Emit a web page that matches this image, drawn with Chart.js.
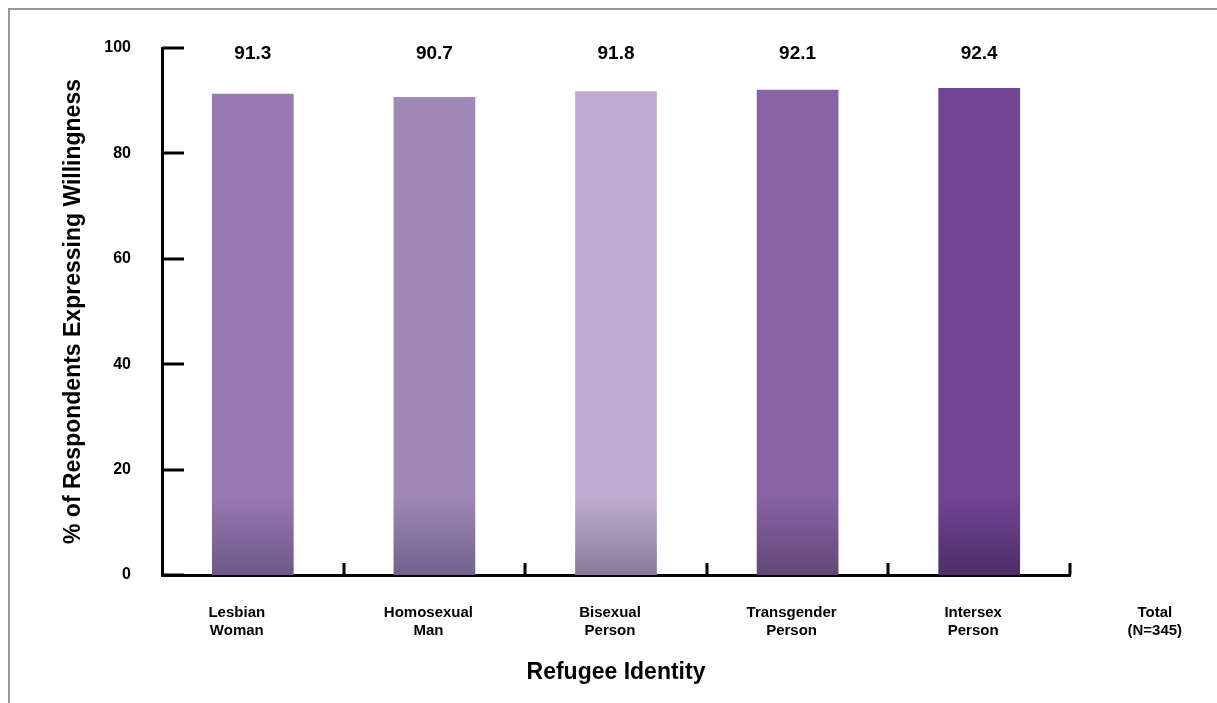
<!DOCTYPE html>
<html>
<head>
<meta charset="utf-8">
<script src="https://cdn.jsdelivr.net/npm/chart.js@4"></script>
<style>
  html, body { margin: 0; padding: 0; background: #fff; }
  #wrap { position: relative; width: 1217px; height: 703px; }
  #frame { position: absolute; left: 8px; top: 8px; right: 0; bottom: 0;
           border-top: 2px solid #999; border-left: 2px solid #999; }
  canvas { position: absolute; left: 0; top: 0; }
</style>
</head>
<body>
<div id="wrap">
  <div id="frame"></div>
  <canvas id="chart" width="1217" height="703"></canvas>
</div>
<script>
// ===== Data =====
const categories = ['Lesbian Woman', 'Homosexual Man', 'Bisexual Person', 'Transgender Person', 'Intersex Person'];
const axisLabels = [['Lesbian', 'Woman'], ['Homosexual', 'Man'], ['Bisexual', 'Person'],
                    ['Transgender', 'Person'], ['Intersex', 'Person'], ['Total', '(N=345)']];
const values = [91.3, 90.7, 91.8, 92.1, 92.4];
const yTicks = [0, 20, 40, 60, 80, 100];

// colours: top of bar / bottom of bar
const topColors = ['#977ab1', '#a088b8', '#c1add1', '#8963a5', '#714594'];
const bottomColors = ['#6d5889', '#71628c', '#877c9c', '#614878', '#4d2d67'];

const FONT = '"Liberation Sans", Arial, sans-serif';

function barColor(c) {
    const area = c.chart.chartArea;
    const i = c.dataIndex;
    if (!area) return topColors[i];
    const g = c.chart.ctx.createLinearGradient(0, area.bottom - 80, 0, area.bottom);
    g.addColorStop(0, topColors[i]);
    g.addColorStop(1, bottomColors[i]);
    return g;
}

// ticks, value labels, category labels
const extras = {
    id: 'extras',
    afterDraw(chart) {
        const { ctx, scales: { x, y } } = chart;
        ctx.save();
        ctx.strokeStyle = '#000';
        ctx.lineWidth = 3;
        yTicks.forEach(v => {
            const py = Math.round(y.getPixelForValue(v));
            ctx.beginPath();
            ctx.moveTo(x.left, py);
            ctx.lineTo(x.left + 22, py);
            ctx.stroke();
        });
        for (let i = 0; i < values.length; i++) {
            const px = Math.round(x.getPixelForValue(i + 0.5));
            ctx.beginPath();
            ctx.moveTo(px, y.bottom);
            ctx.lineTo(px, y.bottom - 12);
            ctx.stroke();
        }
        ctx.fillStyle = '#000';
        ctx.textAlign = 'center';
        ctx.textBaseline = 'middle';
        ctx.font = 'bold 19px ' + FONT;
        const topY = y.getPixelForValue(100) + 6;
        values.forEach((v, i) => {
            ctx.fillText(v.toFixed(1), x.getPixelForValue(i), topY);
        });
        ctx.font = 'bold 15px ' + FONT;
        axisLabels.forEach((lines, i) => {
            const px = x.getPixelForValue(i) - (i === 0 ? 16 : 6);
            lines.forEach((t, j) => ctx.fillText(t, px, 613 + j * 18));
        });
        ctx.restore();
    }
};

new Chart(document.getElementById('chart'), {
    type: 'bar',
    data: {
        labels: categories,
        datasets: [{
            data: values,
            backgroundColor: barColor,
            borderWidth: 0,
            barPercentage: 0.9,
            categoryPercentage: 0.5
        }]
    },
    options: {
        responsive: false,
        devicePixelRatio: 1,
        animation: false,
        layout: { padding: { left: 0, right: 147, top: 48, bottom: 0 } },
        plugins: { legend: { display: false }, tooltip: { enabled: false } },
        scales: {
            x: {
                grid: { display: false, drawTicks: false },
                border: { display: true, color: '#000', width: 3 },
                ticks: { display: false },
                title: {
                    display: true, text: 'Refugee Identity', color: '#000',
                    font: { family: FONT, size: 23, weight: 'bold' },
                    padding: { top: 0, bottom: 17 }
                },
                afterFit(s) { s.height = 128; }
            },
            y: {
                min: 0, max: 100,
                grid: { display: false, drawTicks: false },
                border: { display: true, color: '#000', width: 3 },
                ticks: {
                    stepSize: 20, padding: 31, color: '#000',
                    font: { family: FONT, size: 16, weight: 'bold' }
                },
                title: {
                    display: true, text: '% of Respondents Expressing Willingness', color: '#000',
                    font: { family: FONT, size: 23, weight: 'bold' },
                    padding: { top: 60, bottom: 0 }
                },
                afterFit(s) { s.width = 162; }
            }
        }
    },
    plugins: [extras]
});
</script>
</body>
</html>
